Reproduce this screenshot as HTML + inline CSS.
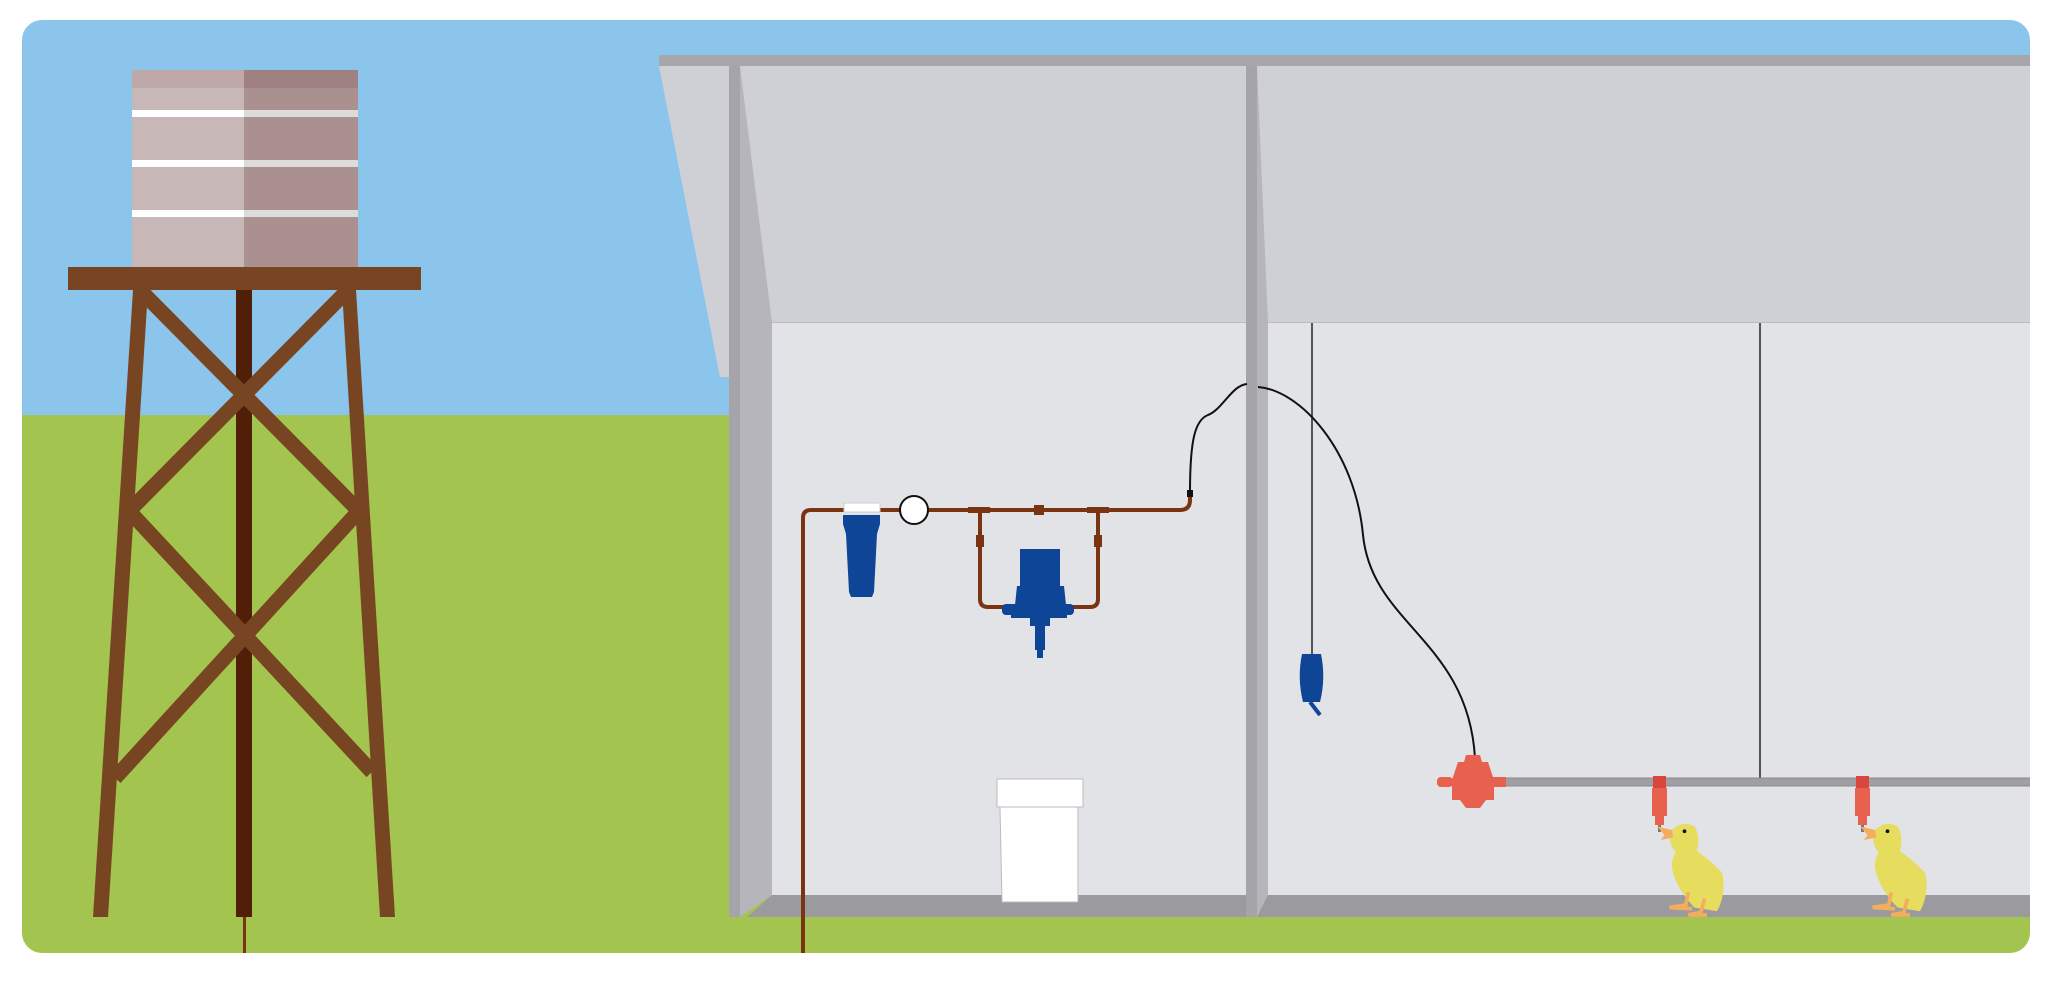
<!DOCTYPE html>
<html><head><meta charset="utf-8"><style>html,body{margin:0;padding:0;background:#fff}svg{display:block}</style></head>
<body>
<svg width="2048" height="983" viewBox="0 0 2048 983" xmlns="http://www.w3.org/2000/svg">
<defs><clipPath id="c"><rect x="22" y="20" width="2008" height="933" rx="20"/></clipPath></defs>
<g clip-path="url(#c)">
<rect x="0" y="0" width="2048" height="416" fill="#8bc5eb"/>
<rect x="0" y="415" width="2048" height="568" fill="#a3c54f"/>

<!-- tank -->
<rect x="132" y="70" width="113" height="198" fill="#c8b7b7"/>
<rect x="244" y="70" width="114" height="198" fill="#ab9090"/>
<rect x="132" y="70" width="113" height="18" fill="#bea8a8"/>
<rect x="244" y="70" width="114" height="18" fill="#a08181"/>
<g fill="#fff"><rect x="132" y="110" width="113" height="7"/><rect x="132" y="160" width="113" height="7"/><rect x="132" y="210" width="113" height="7"/></g>
<g fill="#dcdcdc"><rect x="244" y="110" width="114" height="7"/><rect x="244" y="160" width="114" height="7"/><rect x="244" y="210" width="114" height="7"/></g>
<!-- post -->
<rect x="236" y="290" width="16" height="627" fill="#511e08"/>
<rect x="243" y="917" width="3" height="40" fill="#7a3412"/>
<!-- braces -->
<g stroke="#784523" stroke-width="15" fill="none">
<line x1="140" y1="290" x2="360" y2="512"/>
<line x1="348" y1="290" x2="128" y2="512"/>
<line x1="130" y1="512" x2="372" y2="772"/>
<line x1="358" y1="512" x2="115" y2="778"/>
</g>
<polygon points="133,290 148,290 108,917 93,917" fill="#784523"/>
<polygon points="342,290 356,290 395,917 380,917" fill="#784523"/>
<rect x="68" y="267" width="353" height="23" fill="#784523"/>

<!-- building -->
<rect x="659" y="55" width="1380" height="11" fill="#a6a6ab"/>
<polygon points="659,66 729,66 729,377 720,377" fill="#cfd0d5"/>
<rect x="740" y="66" width="506" height="257" fill="#cfd0d5"/>
<rect x="1257" y="66" width="791" height="257" fill="#cfd0d5"/>
<line x1="772" y1="323" x2="1246" y2="323" stroke="#a8a8ad"/>
<line x1="1268" y1="323" x2="2048" y2="323" stroke="#a8a8ad"/>
<rect x="772" y="323" width="474" height="572" fill="#e2e3e7"/>
<rect x="1268" y="323" width="780" height="572" fill="#e2e3e7"/>
<polygon points="740,66 772,323 772,895 740,917" fill="#b5b5bb"/>
<polygon points="1257,66 1268,323 1268,895 1257,917" fill="#b5b5bb"/>
<rect x="729" y="66" width="11" height="851" fill="#a4a4a9"/>
<rect x="1246" y="66" width="11" height="851" fill="#a4a4a9"/>
<polygon points="772,895 1246,895 1246,917 747,917" fill="#9b9a9f"/>
<polygon points="1268,895 2048,895 2048,917 1257,917" fill="#9b9a9f"/>

<!-- hanging lines -->
<line x1="1312" y1="323" x2="1312" y2="655" stroke="#555" stroke-width="2"/>
<line x1="1760" y1="323" x2="1760" y2="780" stroke="#555" stroke-width="2"/>
<path d="M1302,654 L1321,654 Q1326,678 1320,702 L1303,702 Q1297,678 1302,654Z" fill="#0e4597"/>
<line x1="1310" y1="702" x2="1320" y2="715" stroke="#0e4597" stroke-width="4"/>

<!-- bucket -->
<rect x="997" y="779" width="86" height="28" fill="#fff" stroke="#bbb"/>
<polygon points="1000,807 1078,807 1078,902 1002,902" fill="#fff" stroke="#bbb"/>

<!-- pipes -->
<g stroke="#7a3412" stroke-width="4" fill="none">
<path d="M803,953 L803,518 Q803,510 811,510 L1180,510 Q1190,510 1190,500 L1190,492"/>
<path d="M980,510 L980,599 Q980,607 988,607 L1090,607 Q1098,607 1098,599 L1098,510"/>
</g>
<g fill="#7a3412">
<rect x="968" y="507" width="22" height="6"/><rect x="1087" y="507" width="22" height="6"/>
<rect x="1034" y="505" width="10" height="10"/>
<rect x="976" y="535" width="8" height="12"/><rect x="1094" y="535" width="8" height="12"/>
</g>
<!-- filter -->
<rect x="844" y="503" width="36" height="9" fill="#fff" stroke="#ccc"/>
<path d="M843,515 L880,515 L880,524 L877,534 L874,592 L872,597 L851,597 L849,592 L846,534 L843,524Z" fill="#0e4597"/>
<circle cx="914" cy="510" r="14" fill="#fff" stroke="#111" stroke-width="2"/>
<!-- dosatron -->
<g fill="#0e4597">
<rect x="1020" y="549" width="40" height="40"/>
<polygon points="1017,586 1064,586 1066,605 1015,605"/>
<rect x="1002" y="604" width="72" height="11" rx="4"/>
<rect x="1011" y="610" width="56" height="8"/>
<rect x="1030" y="618" width="20" height="8"/>
<rect x="1035" y="624" width="10" height="26"/>
<rect x="1037" y="650" width="6" height="8"/>
</g>
<!-- hose -->
<path d="M1190,492 C1190,440 1195,420 1208,415 C1222,410 1232,385 1247,384" stroke="#111" stroke-width="2" fill="none"/>
<path d="M1258,387 C1300,390 1355,450 1363,535 C1372,625 1468,640 1475,758" stroke="#111" stroke-width="2" fill="none"/>
<rect x="1187" y="490" width="6" height="7" fill="#111"/>

<!-- drinker line -->
<rect x="1490" y="778" width="560" height="8" fill="#9f9fa4" stroke="#8a8a8f"/>
<g fill="#e8614f">
<rect x="1437" y="777" width="16" height="10" rx="4"/>
<rect x="1490" y="777" width="16" height="10"/>
<polygon points="1466,755 1480,755 1482,762 1488,762 1494,780 1494,800 1486,800 1480,808 1466,808 1460,800 1452,800 1452,780 1458,762 1464,762"/>
</g>
<g>
<rect x="1653" y="776" width="13" height="14" fill="#d9473c"/>
<rect x="1652" y="788" width="15" height="28" fill="#e8614f"/>
<rect x="1655" y="815" width="9" height="10" fill="#e8614f"/>
<rect x="1658" y="825" width="3" height="7" fill="#777"/>
<rect x="1856" y="776" width="13" height="14" fill="#d9473c"/>
<rect x="1855" y="788" width="15" height="28" fill="#e8614f"/>
<rect x="1858" y="815" width="9" height="10" fill="#e8614f"/>
<rect x="1861" y="825" width="3" height="7" fill="#777"/>
</g>
<!-- chicks -->
<g id="ch" transform="translate(1672,830) scale(1.25) translate(-1672,-830)">
<path d="M1672,830 Q1680,822 1690,827 Q1695,835 1692,847 Q1700,852 1712,864 Q1716,880 1708,895 L1690,892 Q1678,880 1673,865 Q1670,855 1675,848 Q1668,840 1672,830Z" fill="#e6dd5f"/>
<path d="M1672,830 L1660,827 L1666,834 L1663,838 L1673,836Z" fill="#f4ad5d"/>
<circle cx="1682" cy="831" r="1.5" fill="#111"/>
<path d="M1685,880 L1683,890 L1670,892 L1688,893 M1698,885 L1695,896 L1685,898 L1700,898" stroke="#f4ad5d" stroke-width="3" fill="none"/>
</g>
<use href="#ch" x="203"/>
</g>
</svg>
</body></html>
